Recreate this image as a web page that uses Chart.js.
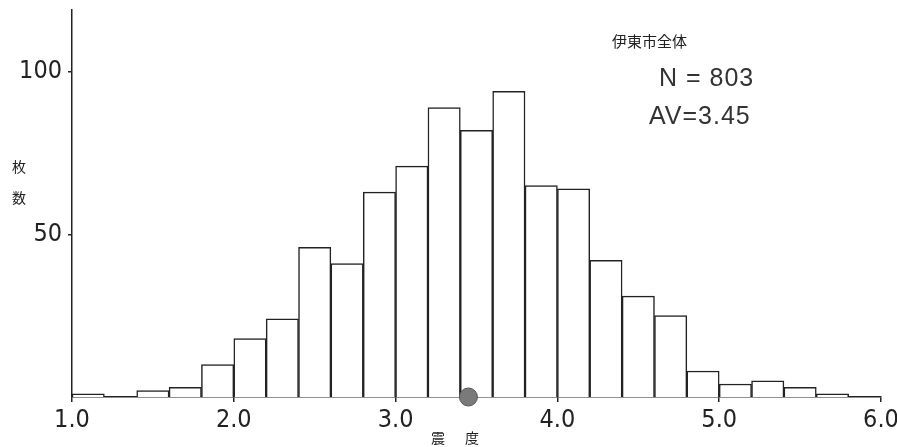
<!DOCTYPE html>
<html>
<head>
<meta charset="utf-8">
<script src="https://cdn.jsdelivr.net/npm/chart.js@4.4.1/dist/chart.umd.min.js"></script>
<style>
    html, body { margin: 0; padding: 0; background: #fff; }
    #wrap { position: relative; width: 897px; height: 447px; overflow: hidden; }
    #wrap canvas { position: absolute; left: 0; top: 0; }
    .lbl { position: absolute; color: #222; white-space: nowrap; line-height: 1; }
    .cjk { font-family: "Noto Sans CJK JP", sans-serif; font-size: 14px; }
    .big { font-family: "Liberation Sans", "DejaVu Sans", sans-serif; font-size: 25px; letter-spacing: 1px; color: #333; }
</style>
</head>
<body>
<div id="wrap">
    <canvas id="hist" width="897" height="447"></canvas>
    <div class="lbl cjk" style="left:612px; top:33px; font-size:15px;">伊東市全体</div>
    <div class="lbl big" style="left:659px; top:65px;">N = 803</div>
    <div class="lbl big" style="left:649px; top:103px;">AV=3.45</div>
    <div class="lbl cjk" style="left:12px; top:159px;">枚</div>
    <div class="lbl cjk" style="left:12px; top:190px;">数</div>
    <div class="lbl cjk" style="left:431px; top:430px;">震</div>
    <div class="lbl cjk" style="left:465px; top:430px;">度</div>
</div>
<script>
(() => {
    // bins of width 0.2, lower edges
    const binLow = [1.0, 1.2, 1.4, 1.6, 1.8, 2.0, 2.2, 2.4, 2.6, 2.8, 3.0, 3.2, 3.4,
                    3.6, 3.8, 4.0, 4.2, 4.4, 4.6, 4.8, 5.0, 5.2, 5.4, 5.6, 5.8];
    const binWidth = 0.2;
    const counts = [1, 0, 2, 3, 10, 18, 24, 46, 41, 63, 71, 89, 82,
                    94, 65, 64, 42, 31, 25, 8, 4, 5, 3, 1, 0];

    const xTickValues = [1, 2, 3, 4, 5, 6];
    const xTickLabels = ['1.0', '2.0', '3.0', '4.0', '5.0', '6.0'];
    const yTickValues = [50, 100];
    const yTickLabels = ['50', '100'];
    const meanValue = 3.45;

    const ink = '#222';
    const tickFont = { family: '"Liberation Sans Narrow", "DejaVu Sans Condensed", "Liberation Sans", sans-serif', size: 25 };

    const points = binLow.map((lo, i) => ({ x: lo + binWidth / 2, y: counts[i] }));

    const meanDot = {
        id: 'meanDot',
        afterDatasetsDraw(chart) {
            const { ctx, scales } = chart;
            const px = scales.x.getPixelForValue(meanValue);
            const py = scales.y.getPixelForValue(0);
            ctx.save();
            ctx.beginPath();
            ctx.arc(px, py, 9, 0, Math.PI * 2);
            ctx.fillStyle = '#7a7a7a';
            ctx.fill();
            ctx.lineWidth = 1;
            ctx.strokeStyle = '#555';
            ctx.stroke();
            ctx.restore();
        }
    };

    new Chart(document.getElementById('hist'), {
        type: 'bar',
        data: {
            datasets: [{
                data: points,
                backgroundColor: '#fff',
                borderColor: ink,
                borderWidth: 1.5,
                barPercentage: 1,
                categoryPercentage: 1
            }]
        },
        options: {
            responsive: false,
            animation: false,
            layout: { padding: { top: 10, right: 16, left: 0, bottom: 0 } },
            plugins: {
                legend: { display: false },
                tooltip: { enabled: false }
            },
            scales: {
                x: {
                    type: 'linear',
                    min: 1,
                    max: 6,
                    offset: false,
                    afterBuildTicks: s => { s.ticks = xTickValues.map(v => ({ value: v })); },
                    afterFit: s => { s.height = 50; s.paddingLeft = 0; s.paddingRight = 0; },
                    ticks: {
                        color: ink,
                        font: tickFont,
                        padding: 3,
                        maxRotation: 0,
                        callback: (v) => xTickLabels[xTickValues.indexOf(v)]
                    },
                    grid: { offset: false, drawOnChartArea: false, color: ink, lineWidth: 1.5, tickLength: 5 },
                    border: { color: ink, width: 1.5 }
                },
                y: {
                    min: 0,
                    max: 119,
                    afterBuildTicks: s => { s.ticks = yTickValues.map(v => ({ value: v })); },
                    afterFit: s => { s.width = 72; s.paddingTop = 0; s.paddingBottom = 0; },
                    ticks: {
                        color: ink,
                        font: tickFont,
                        padding: 6,
                        callback: (v) => yTickLabels[yTickValues.indexOf(v)]
                    },
                    grid: { drawOnChartArea: false, color: ink, lineWidth: 1.5, tickLength: 4 },
                    border: { color: ink, width: 1.5 }
                }
            }
        },
        plugins: [meanDot]
    });
})();
</script>
</body>
</html>
